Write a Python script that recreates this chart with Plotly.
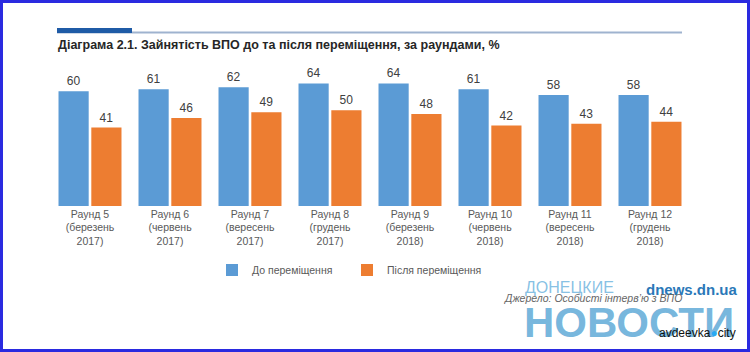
import plotly.graph_objects as go

categories = [
    "Раунд 5<br>(березень<br>2017)",
    "Раунд 6<br>(червень<br>2017)",
    "Раунд 7<br>(вересень<br>2017)",
    "Раунд 8<br>(грудень<br>2017)",
    "Раунд 9<br>(березень<br>2018)",
    "Раунд 10<br>(червень<br>2018)",
    "Раунд 11<br>(вересень<br>2018)",
    "Раунд 12<br>(грудень<br>2018)",
]
before_values = [60, 61, 62, 64, 64, 61, 58, 58]
after_values = [41, 46, 49, 50, 48, 42, 43, 44]
series_names = ["До переміщення", "Після переміщення"]
title_text = "Діаграма 2.1. Зайнятість ВПО до та після переміщення, за раундами, %"
source_text = "Джерело: Особисті інтерв’ю з ВПО"

W, H = 750, 352
L, R, T, B = 50, 60, 72, 146
PW, PH = W - L - R, H - T - B
FONT = "Liberation Sans, Arial, sans-serif"


def px(x):
    return (x - L) / PW


def py(y):
    return (H - B - y) / PH


fig = go.Figure()
fig.add_trace(go.Bar(
    x=categories, y=before_values, name=series_names[0],
    marker=dict(color="#5b9bd5", line=dict(width=0)),
    texttemplate="%{y}", textposition="outside",
    textfont=dict(size=12, color="#404040", family=FONT),
    cliponaxis=False,
))
fig.add_trace(go.Bar(
    x=categories, y=after_values, name=series_names[1],
    marker=dict(color="#ed7d31", line=dict(width=0)),
    texttemplate="%{y}", textposition="outside",
    textfont=dict(size=12, color="#404040", family=FONT),
    cliponaxis=False,
))

shapes = [
    # outer blue frame
    dict(type="rect", xref="paper", yref="paper",
         x0=px(1.5), x1=px(W - 1.5), y0=py(H - 1.5), y1=py(1.5),
         line=dict(color="#2a2ae0", width=3), fillcolor="rgba(0,0,0,0)", layer="above"),
    # thin rule under heading
    dict(type="line", xref="paper", yref="paper",
         x0=px(57), x1=px(682), y0=py(32.5), y1=py(32.5),
         line=dict(color="#9fb3cf", width=2)),
    # thick dark segment
    dict(type="rect", xref="paper", yref="paper",
         x0=px(57), x1=px(132), y0=py(33), y1=py(28),
         line=dict(width=0), fillcolor="#1f5ba6"),
]

annotations = [
    # watermark
    dict(text="<b>НОВОСТИ</b>", xref="paper", yref="paper",
         x=px(629), y=py(322), xanchor="center", yanchor="middle",
         showarrow=False,
         font=dict(size=42, color="rgba(95,170,215,0.85)", family=FONT)),
    dict(text="ДОНЕЦКИЕ", xref="paper", yref="paper",
         x=px(523), y=py(287), xanchor="left", yanchor="middle",
         showarrow=False,
         font=dict(size=16, color="rgba(120,185,225,0.9)", family=FONT)),
    dict(text="<b>dnews.dn.ua</b>", xref="paper", yref="paper",
         x=px(740), y=py(289), xanchor="right", yanchor="middle",
         showarrow=False, font=dict(size=15, color="#2a78b8", family=FONT)),
    dict(text="<i>" + source_text + "</i>", xref="paper", yref="paper",
         x=px(502), y=py(298), xanchor="left", yanchor="middle",
         showarrow=False, font=dict(size=10.5, color="#666666", family=FONT)),
    dict(text='avdeevka<span style="color:#29a9f2">●</span>city', xref="paper", yref="paper",
         x=px(738), y=py(333), xanchor="right", yanchor="middle",
         showarrow=False, font=dict(size=12, color="#111111", family=FONT)),
]

fig.update_layout(
    width=W, height=H,
    margin=dict(l=L, r=R, t=T, b=B, pad=0),
    paper_bgcolor="white", plot_bgcolor="white",
    barmode="group", bargap=0.18, bargroupgap=0.08,
    title=dict(text="<b>" + title_text + "</b>", xref="container", yref="container",
               x=58 / W, xanchor="left", y=1 - 45 / H, yanchor="middle",
               font=dict(size=12.5, color="#262626", family=FONT)),
    xaxis=dict(showline=False, showgrid=False, zeroline=False, ticks="",
               tickfont=dict(size=10.5, color="#595959", family=FONT),
               range=[-0.5, 7.5]),
    yaxis=dict(visible=False, range=[0, 70]),
    legend=dict(orientation="h", x=px(212), xanchor="left", y=py(270), yanchor="middle",
                font=dict(size=10.5, color="#595959", family=FONT),
                entrywidth=90, entrywidthmode="pixels", bgcolor="rgba(0,0,0,0)"),
    shapes=shapes,
    annotations=annotations,
    showlegend=True,
)

fig.write_html("out.html")
